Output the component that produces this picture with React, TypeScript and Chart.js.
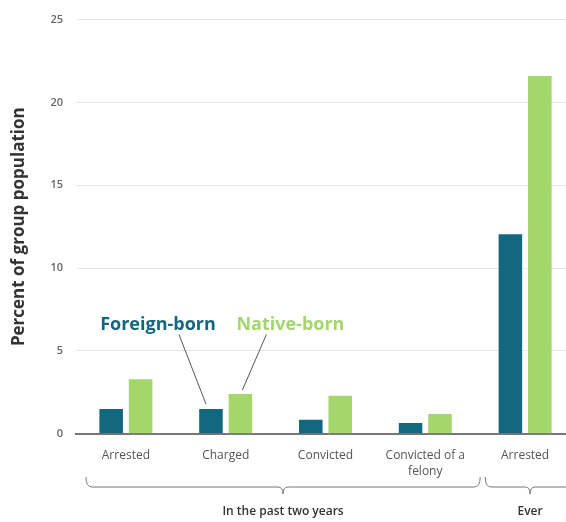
import React, { useEffect, useRef } from "react";
import { Chart, registerables } from "chart.js";

Chart.register(...registerables);

const categories: (string | string[])[] = ["Arrested", "Charged", "Convicted", ["Convicted of a", "felony"], "Arrested"];
const foreignBorn = [1.5, 1.5, 0.85, 0.65, 12.05];
const nativeBorn = [3.3, 2.4, 2.3, 1.2, 21.6];
const yTicks = [0, 5, 10, 15, 20, 25];
const groupLabels = ["In the past two years", "Ever"];
const seriesNames = ["Foreign-born", "Native-born"];

const TEAL = "#13677f";
const GREEN = "#a3d66b";

const annotPlugin = {
  id: "annot",
  afterDraw(chart: any) {
    const ctx = chart.ctx;
    const x = chart.scales.x;
    const y = chart.scales.y;
    const step = x.getPixelForValue(1) - x.getPixelForValue(0);
    ctx.save();
    // brackets
    ctx.strokeStyle = "#777";
    ctx.lineWidth = 1;
    const top = 477, bot = 487, tip = 494;
    const drawBracket = (x1: number, x2: number, xc: number) => {
      ctx.beginPath();
      ctx.moveTo(x1, top);
      ctx.quadraticCurveTo(x1, bot, x1 + 6, bot);
      ctx.lineTo(xc - 5, bot);
      ctx.quadraticCurveTo(xc, bot, xc, tip);
      ctx.quadraticCurveTo(xc, bot, xc + 5, bot);
      ctx.lineTo(x2 - 6, bot);
      ctx.quadraticCurveTo(x2, bot, x2, top);
      ctx.stroke();
    };
    const a1 = x.getPixelForValue(0) - step * 0.4;
    const a2 = x.getPixelForValue(3) + step * 0.55;
    const b1 = x.getPixelForValue(4) - step * 0.4;
    const b2 = x.getPixelForValue(4) + step * 0.6;
    const ac = (a1 + a2) / 2;
    drawBracket(a1, a2, ac);
    drawBracket(b1, b2, x.getPixelForValue(4) + 5);
    ctx.fillStyle = "#333";
    ctx.font = "600 12px 'Open Sans'";
    ctx.textAlign = "center";
    ctx.textBaseline = "middle";
    ctx.fillText(groupLabels[0], ac, 512);
    ctx.fillText(groupLabels[1], x.getPixelForValue(4) + 5, 512);

    // legend annotations
    const fb = chart.getDatasetMeta(0).data[1];
    const nb = chart.getDatasetMeta(1).data[1];
    const ty = y.getPixelForValue(6.6);
    ctx.font = "bold 18px 'Open Sans'";
    ctx.fillStyle = TEAL;
    ctx.fillText(seriesNames[0], fb.x - 53, ty);
    ctx.fillStyle = GREEN;
    ctx.fillText(seriesNames[1], nb.x + 50, ty);
    ctx.strokeStyle = "#555";
    ctx.beginPath();
    ctx.moveTo(fb.x - 32, ty + 10);
    ctx.lineTo(fb.x - 5, fb.y - 5);
    ctx.moveTo(nb.x + 26, ty + 10);
    ctx.lineTo(nb.x + 2, nb.y - 4);
    ctx.stroke();
    ctx.restore();
  },
};

export default function App() {
  const ref = useRef<HTMLCanvasElement>(null);
  useEffect(() => {
    document.body.style.overflow = "hidden";
    const chart = new Chart(ref.current!, {
      type: "bar",
      data: {
        labels: categories as any,
        datasets: [
          { label: seriesNames[0], data: foreignBorn, backgroundColor: TEAL, barPercentage: 0.8, categoryPercentage: 0.59 },
          { label: seriesNames[1], data: nativeBorn, backgroundColor: GREEN, barPercentage: 0.8, categoryPercentage: 0.59 },
        ],
      },
      options: {
        animation: false,
        responsive: false,
        layout: { padding: { top: 14, bottom: 37, left: 0, right: 0 } },
        plugins: { legend: { display: false }, tooltip: { enabled: false } },
        scales: {
          x: {
            grid: { display: false },
            border: { color: "#777", width: 2 },
            ticks: { color: "#555", font: { family: "Open Sans", size: 12, lineHeight: 1.3 }, padding: 6, maxRotation: 0, autoSkip: false },
          },
          y: {
            min: 0,
            max: 25,
            afterBuildTicks: (s: any) => { s.ticks = yTicks.map((v) => ({ value: v })); },
            grid: { color: "#e6e6e6", drawTicks: false },
            border: { display: false },
            ticks: { color: "#666", font: { family: "Open Sans", size: 11, weight: "600" }, padding: 13 },
            title: { display: true, text: "Percent of group population", color: "#333", font: { family: "Open Sans", size: 17, weight: "bold" }, padding: { top: 9, bottom: 8 } },
          },
        },
      },
      plugins: [annotPlugin],
    });
    return () => chart.destroy();
  }, []);
  return (
    <div style={{ position: "fixed", left: 0, top: 0, width: 575, height: 522 }}>
      <canvas ref={ref} width={575} height={522} style={{ width: 575, height: 522 }} />
    </div>
  );
}
